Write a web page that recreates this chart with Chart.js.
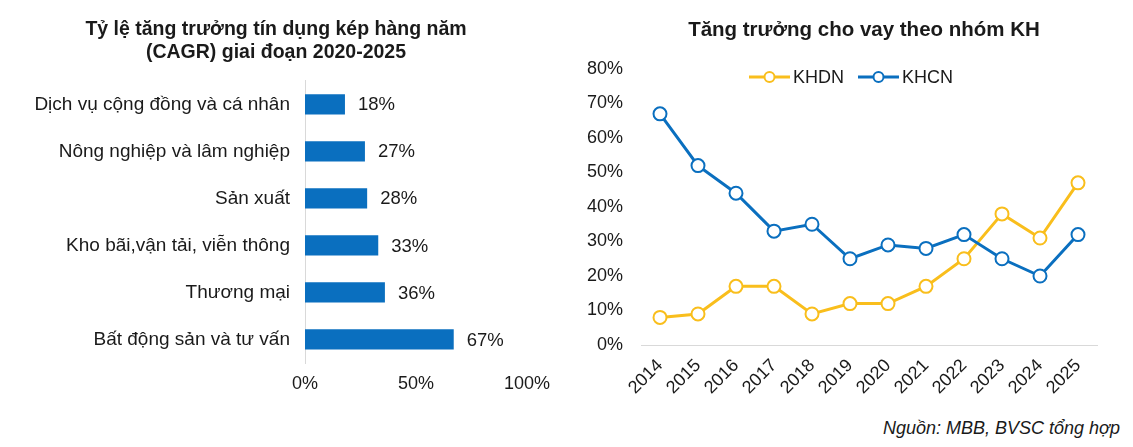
<!DOCTYPE html>
<html lang="vi">
<head>
<meta charset="UTF-8">
<title>Tăng trưởng tín dụng</title>
<script src="https://cdn.jsdelivr.net/npm/chart.js"></script>
<style>
    html, body {
        margin: 0;
        padding: 0;
        background: #ffffff;
        width: 1133px;
        height: 447px;
        overflow: hidden;
        font-family: Arial, "Liberation Sans", sans-serif;
    }
    .box {
        position: absolute;
    }
    #leftBox { left: 0; top: 0; width: 560px; height: 400px; }
    #rightBox { left: 585px; top: 0; width: 558px; height: 410px; }
    #rightTitle {
        position: absolute;
        left: 585px;
        top: 17px;
        width: 558px;
        text-align: center;
        font-size: 20.5px;
        line-height: 24px;
        font-weight: bold;
        color: #1a1a1a;
    }
    #source {
        position: absolute;
        right: 13px;
        top: 417px;
        font-size: 18px;
        line-height: 22px;
        font-style: italic;
        color: #1a1a1a;
    }
</style>
</head>
<body>
<div class="box" id="leftBox"><canvas id="cagrChart"></canvas></div>
<div class="box" id="rightBox"><canvas id="loanChart"></canvas></div>
<div id="rightTitle">Tăng trưởng cho vay theo nhóm KH</div>
<div id="source">Nguồn: MBB, BVSC tổng hợp</div>

<script>
    // Dữ liệu biểu đồ trái
    const sectors = [
        'Dịch vụ cộng đồng và cá nhân',
        'Nông nghiệp và lâm nghiệp',
        'Sản xuất',
        'Kho bãi,vận tải, viễn thông',
        'Thương mại',
        'Bất động sản và tư vấn'
    ];
    const cagr = [18, 27, 28, 33, 36, 67];

    // Dữ liệu biểu đồ phải
    const years = ['2014', '2015', '2016', '2017', '2018', '2019', '2020', '2021', '2022', '2023', '2024', '2025'];
    const khdn = [8, 9, 17, 17, 9, 12, 12, 17, 25, 38, 31, 47];
    const khcn = [67, 52, 44, 33, 35, 25, 29, 28, 32, 25, 20, 32];

    const FONT = 'Arial, "Liberation Sans", sans-serif';
    const TEXT = '#1a1a1a';
    const BLUE = '#0a6fbf';
    const GOLD = '#f9be1c';

    Chart.defaults.font.family = FONT;
    Chart.defaults.color = TEXT;

    // nhãn giá trị cuối thanh
    const barLabels = {
        id: 'barLabels',
        afterDatasetsDraw(chart) {
            const ctx = chart.ctx;
            const meta = chart.getDatasetMeta(0);
            ctx.save();
            ctx.font = '18.5px ' + FONT;
            ctx.fillStyle = TEXT;
            ctx.textAlign = 'left';
            ctx.textBaseline = 'middle';
            meta.data.forEach((bar, i) => {
                ctx.fillText(cagr[i] + '%', bar.x + 13, bar.y + 1);
            });
            ctx.restore();
        }
    };

    new Chart(document.getElementById('cagrChart'), {
        type: 'bar',
        data: {
            labels: sectors,
            datasets: [{
                data: cagr,
                backgroundColor: BLUE,
                categoryPercentage: 1,
                barPercentage: 0.43
            }]
        },
        options: {
            indexAxis: 'y',
            responsive: true,
            maintainAspectRatio: false,
            animation: false,
            layout: { padding: { left: 21, right: 29, top: 0, bottom: 6 } },
            plugins: {
                legend: { display: false },
                tooltip: { enabled: false },
                title: {
                    display: true,
                    text: ['Tỷ lệ tăng trưởng tín dụng kép hàng năm', '(CAGR) giai đoạn 2020-2025'],
                    font: { size: 19.5, weight: 'bold' },
                    lineHeight: 1.25,
                    color: TEXT,
                    padding: { top: 18, bottom: 16 }
                }
            },
            scales: {
                x: {
                    min: 0,
                    max: 100,
                    ticks: {
                        stepSize: 50,
                        padding: 10,
                        font: { size: 18 },
                        callback: v => v + '%'
                    },
                    grid: { display: false, drawTicks: false },
                    border: { display: false },
                    afterFit: axis => { axis.height = 31; }
                },
                y: {
                    ticks: { padding: 15, font: { size: 19 } },
                    grid: { display: false, drawTicks: false },
                    border: { display: true, color: '#d9d9d9', width: 1 },
                    afterFit: axis => { axis.width = 284; }
                }
            }
        },
        plugins: [barLabels]
    });

    // chú thích bên trong vùng vẽ
    const innerLegend = {
        id: 'innerLegend',
        afterDraw(chart) {
            const ctx = chart.ctx;
            const area = chart.chartArea;
            const y = area.top + 8;
            const items = [
                { text: 'KHDN', color: GOLD, x: area.left + 108 },
                { text: 'KHCN', color: BLUE, x: area.left + 217 }
            ];
            ctx.save();
            items.forEach(it => {
                ctx.strokeStyle = it.color;
                ctx.lineWidth = 3;
                ctx.beginPath();
                ctx.moveTo(it.x, y);
                ctx.lineTo(it.x + 41, y);
                ctx.stroke();
                ctx.beginPath();
                ctx.arc(it.x + 20.5, y, 5, 0, Math.PI * 2);
                ctx.fillStyle = '#ffffff';
                ctx.fill();
                ctx.lineWidth = 2;
                ctx.stroke();
                ctx.fillStyle = TEXT;
                ctx.font = '18px ' + FONT;
                ctx.textAlign = 'left';
                ctx.textBaseline = 'middle';
                ctx.fillText(it.text, it.x + 44, y + 1);
            });
            ctx.restore();
        }
    };

    const lineStyle = color => ({
        borderColor: color,
        backgroundColor: '#ffffff',
        borderWidth: 3,
        pointRadius: 6.5,
        pointBorderWidth: 2,
        pointBackgroundColor: '#ffffff',
        pointBorderColor: color,
        tension: 0,
        fill: false
    });

    new Chart(document.getElementById('loanChart'), {
        type: 'line',
        data: {
            labels: years,
            datasets: [
                Object.assign({ label: 'KHCN', data: khcn }, lineStyle(BLUE)),
                Object.assign({ label: 'KHDN', data: khdn }, lineStyle(GOLD))
            ]
        },
        options: {
            responsive: true,
            maintainAspectRatio: false,
            animation: false,
            layout: { padding: { left: 0, right: 46, top: 69, bottom: 0 } },
            plugins: {
                legend: { display: false },
                tooltip: { enabled: false },
                title: { display: false }
            },
            scales: {
                x: {
                    offset: true,
                    ticks: {
                        minRotation: 45,
                        maxRotation: 45,
                        padding: 10,
                        font: { size: 18 }
                    },
                    grid: { display: false, drawTicks: false },
                    border: { display: true, color: '#d9d9d9', width: 1 },
                    afterFit: axis => { axis.height = 65; }
                },
                y: {
                    min: 0,
                    max: 80,
                    ticks: {
                        stepSize: 10,
                        padding: 18,
                        font: { size: 18 },
                        callback: v => v + '%'
                    },
                    grid: { display: false, drawTicks: false },
                    border: { display: false },
                    afterFit: axis => { axis.width = 56; }
                }
            }
        },
        plugins: [innerLegend]
    });
</script>
</body>
</html>
